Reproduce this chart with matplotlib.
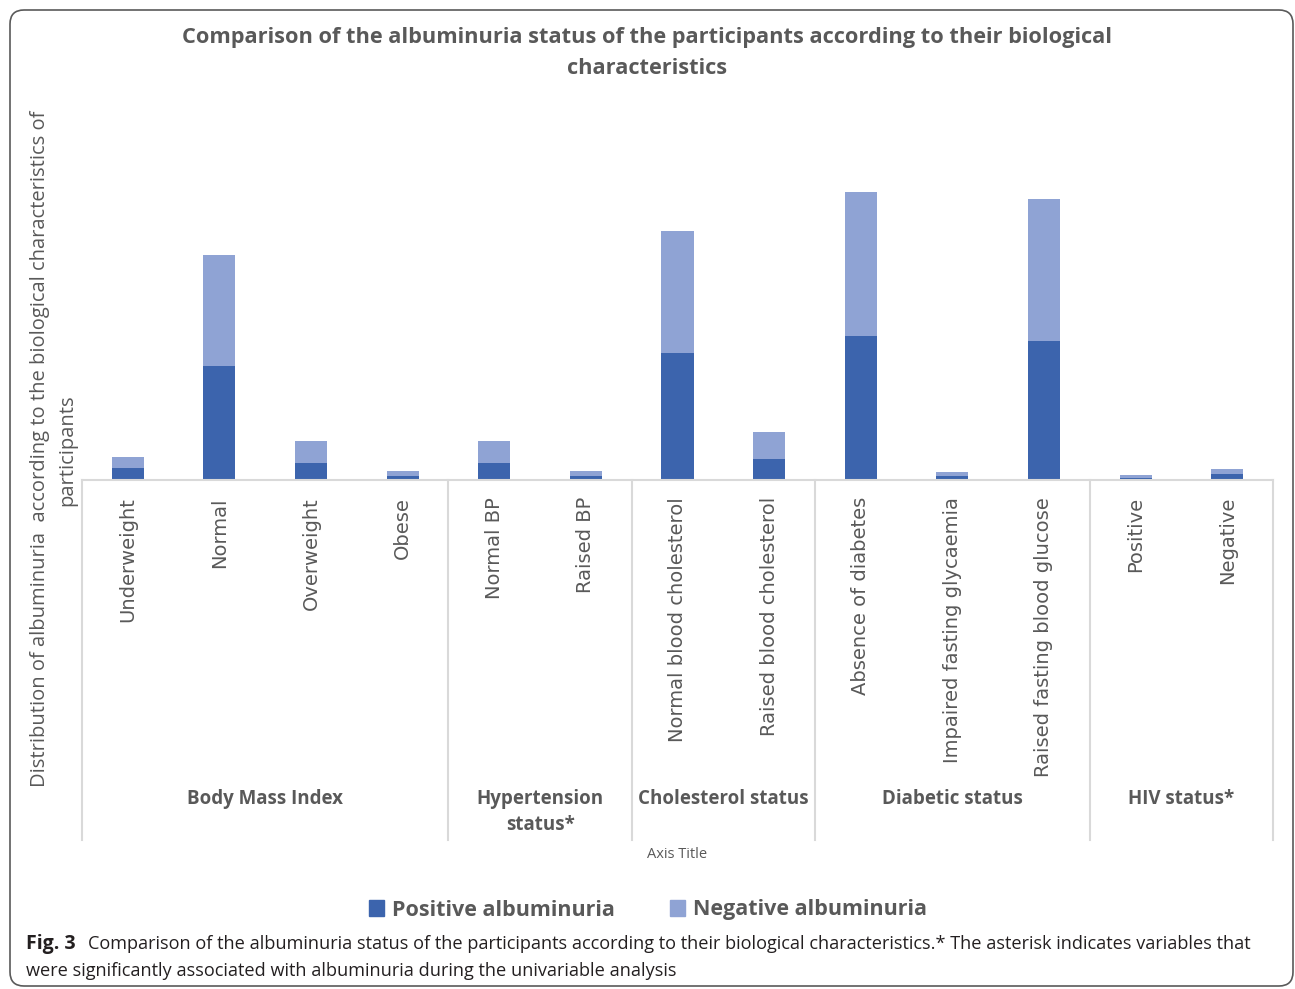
import matplotlib.pyplot as plt
import matplotlib.transforms as mtransforms
from matplotlib.patches import FancyBboxPatch, Patch
import numpy as np

categories = ["Underweight", "Normal", "Overweight", "Obese",
              "Normal BP", "Raised BP",
              "Normal blood cholesterol", "Raised blood cholesterol",
              "Absence of diabetes", "Impaired fasting glycaemia", "Raised fasting blood glucose",
              "Positive", "Negative"]
positive = [12, 114, 17, 4, 17, 4, 127, 21, 144, 4, 139, 2, 6]
negative = [11, 111, 22, 5, 22, 5, 122, 27, 144, 4, 142, 3, 5]

groups = ["Body Mass Index", "Hypertension\nstatus*", "Cholesterol status", "Diabetic status", "HIV status*"]
group_sizes = [4, 2, 2, 3, 2]

POS_COLOR = "#3c64ad"
NEG_COLOR = "#8fa3d4"
GREY = "#595959"
LINE = "#d9d9d9"

W, H = 1295, 989
fig = plt.figure(figsize=(W / 100, H / 100), dpi=100)
fig.patch.set_facecolor("white")

def fy(py):
    return 1 - py / H

# plot area: baseline at y=480px, spans x 82..1273px
ax = fig.add_axes([82 / W, fy(480), (1273 - 82) / W, 330 / H])
x = np.arange(len(categories))
ax.bar(x, positive, width=0.35, color=POS_COLOR, label="Positive albuminuria")
ax.bar(x, negative, width=0.35, bottom=positive, color=NEG_COLOR, label="Negative albuminuria")
ax.set_xlim(-0.5, len(categories) - 0.5)
ax.set_ylim(0, 330)
ax.axis("off")

trans = mtransforms.blended_transform_factory(ax.transData, fig.transFigure)

# category axis line and group dividers
ax.plot([-0.5, len(categories) - 0.5], [fy(480)] * 2, transform=trans, color=LINE,
        lw=1.5, clip_on=False)
edges = np.concatenate([[0], np.cumsum(group_sizes)]) - 0.5
for e in edges:
    ax.plot([e, e], [fy(480), fy(840)], transform=trans, color=LINE, lw=1.5, clip_on=False)

for xi, lab in zip(x, categories):
    ax.text(xi, fy(497), lab, transform=trans, rotation=90, ha="center", va="top",
            fontsize=14, color=GREY, family="DejaVu Sans")

for i, g in enumerate(groups):
    cx = (edges[i] + edges[i + 1]) / 2
    ax.text(cx, fy(789), g, transform=trans, ha="center", va="top", fontsize=13.5,
            color=GREY, family="Open Sans", fontweight="bold", linespacing=1.4)

fig.text(677 / W, fy(855), "Axis Title", ha="center", va="center", fontsize=10.5,
         color=GREY, family="Open Sans")

# title and y label
fig.text(647 / W, fy(37), "Comparison of the albuminuria status of the participants according to their biological",
         ha="center", va="center", fontsize=15.7, color=GREY, family="Open Sans", fontweight="bold")
fig.text(647 / W, fy(69), "characteristics", ha="center", va="center", fontsize=15.7,
         color=GREY, family="Open Sans", fontweight="bold")
fig.text(40 / W, fy(449), "Distribution of albuminuria  according to the biological characteristics of",
         rotation=90, ha="center", va="center", fontsize=14.5, color=GREY, family="Open Sans")
fig.text(67 / W, fy(450), "participants", rotation=90, ha="center", va="center",
         fontsize=14.5, color=GREY, family="Open Sans")

handles = [Patch(color=POS_COLOR), Patch(color=NEG_COLOR)]
fig.legend(handles, ["Positive albuminuria", "Negative albuminuria"], ncol=2, loc="center",
           bbox_to_anchor=(648 / W, fy(910)), frameon=False, handlelength=0.7,
           handleheight=0.7, handletextpad=0.35, columnspacing=2.6, labelcolor=GREY,
           prop={"family": "Open Sans", "weight": "bold", "size": 15.5})

# figure caption
fig.text(26 / W, fy(944), "Fig. 3", ha="left", va="center", fontsize=14, color="#231f20",
         family="Open Sans", fontweight="bold")
fig.text(88 / W, fy(944), "Comparison of the albuminuria status of the participants according to their "
         "biological characteristics.* The asterisk indicates variables that",
         ha="left", va="center", fontsize=13.1, color="#231f20", family="Open Sans")
fig.text(26 / W, fy(971), "were significantly associated with albuminuria during the univariable analysis",
         ha="left", va="center", fontsize=13.1, color="#231f20", family="Open Sans")

# outer frame
frame = FancyBboxPatch((0.10, 0.03), 12.83, 9.76, boxstyle="round,pad=0,rounding_size=0.14",
                       transform=fig.dpi_scale_trans, fill=False, ec="#5a5a5a", lw=1.2)
fig.patches.append(frame)

fig.savefig("out.png", dpi=100)
